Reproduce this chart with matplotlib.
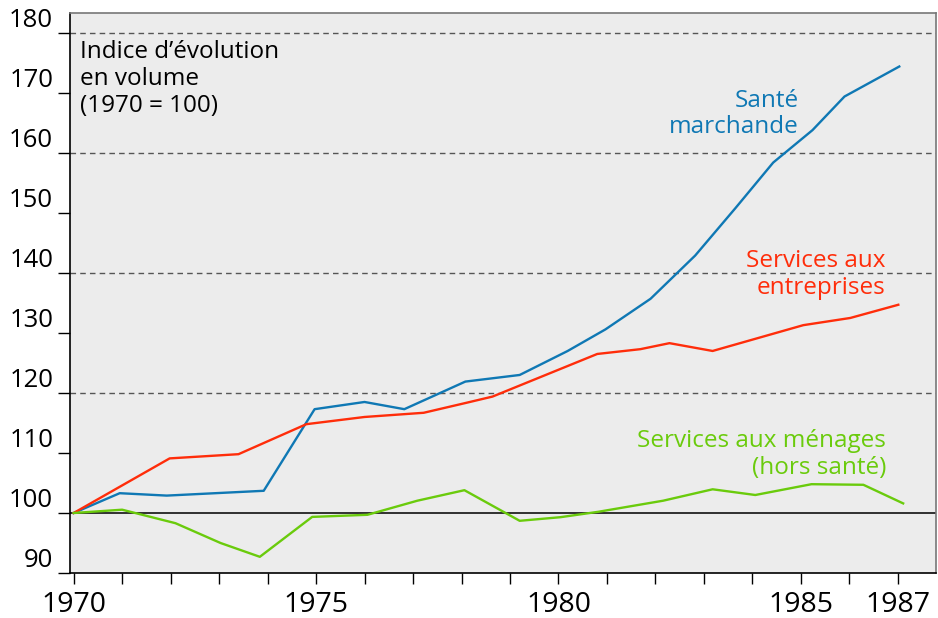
import matplotlib
matplotlib.use("Agg")
import matplotlib.pyplot as plt

plt.rcParams['font.family'] = ['Open Sans', 'DejaVu Sans']

# vertices (x in years, y = index 1970=100)
sante_x = [1970, 1970.95, 1971.92, 1973.92, 1974.97, 1976.0, 1976.82, 1978.08,
           1979.2, 1980.19, 1980.97, 1981.9, 1982.82, 1983.65, 1984.43, 1985.24,
           1985.9, 1987.03]
sante_y = [100, 103.3, 102.9, 103.7, 117.3, 118.5, 117.3, 121.9,
           123.0, 127.0, 130.6, 135.7, 142.9, 150.8, 158.4, 163.8,
           169.4, 174.4]

entr_x = [1970, 1971.98, 1973.4, 1974.8, 1976.0, 1977.22, 1978.12, 1978.64,
          1980.8, 1981.69, 1982.29, 1983.18, 1985.05, 1986.02, 1987.01]
entr_y = [100, 109.1, 109.8, 114.8, 116.0, 116.7, 118.4, 119.4,
          126.5, 127.3, 128.3, 127.0, 131.3, 132.5, 134.7]

men_x = [1970, 1971.0, 1972.1, 1973.03, 1973.84, 1974.92, 1976.06, 1977.09,
         1978.06, 1979.2, 1980.04, 1980.82, 1982.16, 1983.18, 1984.06,
         1985.22, 1986.29, 1987.11]
men_y = [100, 100.55, 98.3, 95.0, 92.7, 99.35, 99.7, 102.05,
         103.8, 98.7, 99.3, 100.2, 102.05, 103.95, 103.0,
         104.8, 104.7, 101.6]

years = list(range(1970, 1988))
year_labels = ['1970', '1975', '1980', '1985', '1987']
y_ticks = list(range(90, 190, 10))
dashed_levels = [120, 140, 160, 180]

blue = '#0f78b4'
red = '#ff2d0a'
green = '#6acb0c'

fig = plt.figure(figsize=(9.38, 6.18), dpi=100)
ax = fig.add_axes([0.0746, 0.0728, 0.9234, 0.906])
ax.set_facecolor('#ececec')

for lv in dashed_levels:
    ax.axhline(lv, color='#555555', lw=1.0, ls=(0, (4, 3)), zorder=1)
ax.axhline(100, color='#222222', lw=1.3, zorder=1)

ax.plot(sante_x, sante_y, color=blue, lw=1.7, zorder=3)
ax.plot(entr_x, entr_y, color=red, lw=1.7, zorder=3)
ax.plot(men_x, men_y, color=green, lw=1.7, zorder=3)

ax.set_xlim(1969.924, 1987.79)
ax.set_ylim(90, 183.3)

ax.set_yticks(y_ticks)
ax.set_yticklabels([str(v) for v in y_ticks])
ax.set_xticks(years)
ax.set_xticklabels([str(y) if str(y) in year_labels else '' for y in years])

ax.tick_params(axis='y', direction='out', length=9, width=1.0, pad=3,
               labelsize=18.5, colors='black')
ax.tick_params(axis='x', direction='out', length=8, width=1.0, pad=5,
               labelsize=20.5, colors='black')
for lab in ax.get_yticklabels():
    lab.set_verticalalignment('bottom')

for s in ['left', 'bottom']:
    ax.spines[s].set_color('black')
    ax.spines[s].set_linewidth(1.2)
for s in ['top', 'right']:
    ax.spines[s].set_color('#777777')
    ax.spines[s].set_linewidth(1.2)

ax.text(0.011, 0.882, "Indice d\u2019évolution\nen volume\n(1970 = 100)",
        transform=ax.transAxes, fontsize=17.5, color='black',
        ha='left', va='center', linespacing=1.15)

ax.text(1984.95, 166.5, "Santé\nmarchande", color=blue, fontsize=17.5,
        ha='right', va='center', linespacing=1.15)
ax.text(1986.74, 139.7, "Services aux\nentreprises", color=red, fontsize=17.5,
        ha='right', va='center', linespacing=1.15)
ax.text(1986.76, 109.7, "Services aux ménages\n(hors santé)", color=green,
        fontsize=17.5, ha='right', va='center', linespacing=1.15)

fig.savefig('out.png', dpi=100)
